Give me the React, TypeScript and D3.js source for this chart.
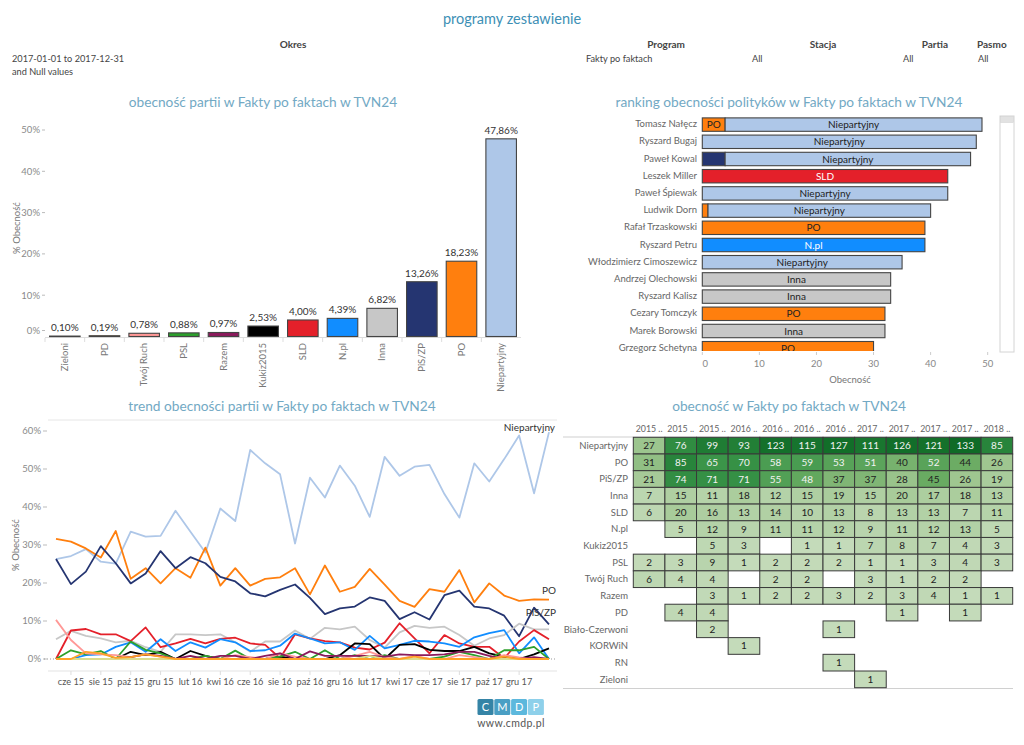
import React from 'react';
import * as d3 from 'd3';

const FONT = "'Segoe UI', Lato, 'Open Sans', sans-serif";
const TITLE_COLOR = '#72a9c4';
const TITLE_SIZE = 13.7;
const LABEL_SIZE = 9.5;

// ---------- parties & colours ----------
const partyNames = ['Niepartyjny', 'PO', 'PiS/ZP', 'Inna', 'SLD', 'N.pl', 'Kukiz2015', 'PSL', 'Twój Ruch', 'Razem', 'PD', 'Zieloni'];
const partyColors = ['#aec7e8', '#ff7f0e', '#253571', '#c7c7c7', '#e4202a', '#118dff', '#000000', '#2ca02c', '#ff9896', '#8b1a5c', '#ffa126', '#dbdb8d'];
const colorOf = (p: string) => partyColors[partyNames.indexOf(p)] || '#999';

// ---------- bar chart (2017) ----------
const barCategories = ['Zieloni', 'PD', 'Twój Ruch', 'PSL', 'Razem', 'Kukiz2015', 'SLD', 'N.pl', 'Inna', 'PiS/ZP', 'PO', 'Niepartyjny'];
const barValues = [0.10, 0.19, 0.78, 0.88, 0.97, 2.53, 4.00, 4.39, 6.82, 13.26, 18.23, 47.86];
const barTicks = [0, 10, 20, 30, 40, 50];

// ---------- ranking ----------
const rankNames = ['Tomasz Nałęcz', 'Ryszard Bugaj', 'Paweł Kowal', 'Leszek Miller', 'Paweł Śpiewak', 'Ludwik Dorn', 'Rafał Trzaskowski', 'Ryszard Petru', 'Włodzimierz Cimoszewicz', 'Andrzej Olechowski', 'Ryszard Kalisz', 'Cezary Tomczyk', 'Marek Borowski', 'Grzegorz Schetyna'];
const rankParties = [
  ['PO', 'Niepartyjny'], ['Niepartyjny'], ['PiS/ZP', 'Niepartyjny'], ['SLD'], ['Niepartyjny'], ['PO', 'Niepartyjny'],
  ['PO'], ['N.pl'], ['Niepartyjny'], ['Inna'], ['Inna'], ['PO'], ['Inna'], ['PO'],
];
const rankValues = [
  [4, 45], [48], [4, 43], [43], [43], [1, 39],
  [39], [39], [35], [33], [33], [32], [32], [30],
];
const rankTicks = [0, 10, 20, 30, 40, 50];

// ---------- trend (monthly %) ----------
const months = ['2015-05', '2015-06', '2015-07', '2015-08', '2015-09', '2015-10', '2015-11', '2015-12',
  '2016-01', '2016-02', '2016-03', '2016-04', '2016-05', '2016-06', '2016-07', '2016-08', '2016-09', '2016-10', '2016-11', '2016-12',
  '2017-01', '2017-02', '2017-03', '2017-04', '2017-05', '2017-06', '2017-07', '2017-08', '2017-09', '2017-10', '2017-11', '2017-12',
  '2018-01', '2018-02'];
const tickMonths = ['2015-06', '2015-08', '2015-10', '2015-12', '2016-02', '2016-04', '2016-06', '2016-08', '2016-10', '2016-12', '2017-02', '2017-04', '2017-06', '2017-08', '2017-10', '2017-12'];
const tickLabels = ['cze 15', 'sie 15', 'paź 15', 'gru 15', 'lut 16', 'kwi 16', 'cze 16', 'sie 16', 'paź 16', 'gru 16', 'lut 17', 'kwi 17', 'cze 17', 'sie 17', 'paź 17', 'gru 17'];
const lineTicks = [0, 10, 20, 30, 40, 50, 60];

const trendNiepartyjny = [26.3, 27.1, 28.9, 25.6, 25.1, 33.5, 32.2, 32.4, 39.0, 33.5, 28.0, 39.6, 36.3, 55.0, 51.5, 48.6, 30.4, 47.7, 42.5, 50.9, 45.6, 37.4, 53.2, 48.2, 50.6, 51.1, 43.4, 37.2, 51.5, 46.7, 52.6, 58.8, 43.6, 59.7];
const trendPO = [31.6, 30.9, 29.1, 26.7, 33.7, 21.1, 23.9, 19.9, 23.9, 21.4, 29.3, 19.3, 23.9, 19.3, 21.1, 21.5, 23.9, 17.0, 24.6, 17.7, 19.0, 23.7, 19.6, 15.3, 13.7, 18.4, 17.7, 23.4, 14.9, 19.9, 16.7, 15.3, 15.7, 15.6];
const trendPiS = [26.3, 19.7, 23.0, 29.7, 25.2, 19.9, 22.5, 28.4, 23.9, 26.8, 25.2, 21.6, 20.4, 17.3, 16.5, 18.2, 19.6, 16.1, 11.8, 13.3, 13.8, 16.2, 15.3, 10.5, 12.3, 10.4, 16.8, 18.0, 13.8, 13.3, 11.4, 6.0, 13.5, 9.1];
const trendInna = [5.2, 7.4, 6.1, 5.4, 4.4, 4.8, 3.1, 1.9, 6.5, 6.5, 6.3, 6.5, 4.4, 1.9, 4.6, 4.6, 7.5, 5.3, 8.2, 7.8, 8.5, 5.0, 3.0, 7.0, 8.7, 8.2, 8.5, 6.3, 3.5, 5.4, 6.3, 9.3, 7.8, 7.8];
const trendSLD = [0, 7.5, 7.9, 6.5, 6.5, 4.7, 8.3, 3.1, 4.1, 5.3, 4.1, 5.3, 5.6, 4.1, 3.7, 0.2, 6.5, 5.4, 4.7, 4.4, 3.0, 2.5, 4.3, 9.4, 5.4, 1.5, 6.3, 4.1, 3.2, 3.2, 0.2, 4.6, 7.6, 5.2];
const trendNpl = [0, 0, 1.0, 1.2, 3.2, 4.4, 1.9, 5.2, 2.1, 4.4, 3.0, 5.2, 4.4, 2.1, 2.3, 3.5, 6.7, 5.4, 4.1, 4.4, 2.4, 6.1, 2.8, 3.7, 4.8, 4.6, 4.1, 3.2, 5.7, 6.8, 7.6, 1.5, 5.7, 0];
const trendKukiz = [0, 0, 0, 0, 0, 1.9, 1.0, 1.9, 0, 2.1, 0.8, 0, 0, 0, 0, 0.6, 0, 0, 0, 1.0, 4.1, 3.9, 0, 3.7, 3.9, 2.4, 2.1, 2.1, 3.2, 1.5, 0.6, 0, 1.2, 2.8];
const trendPSL = [0, 2.3, 1.2, 2.1, 0, 4.6, 2.4, 1.5, 0, 0, 0.8, 0, 2.2, 0, 0, 0.6, 1.9, 0, 2.3, 0, 1.0, 0, 1.0, 0, 0, 0, 0.6, 1.9, 1.0, 0, 2.3, 2.3, 3.2, 0];
const trendTwojRuch = [10.3, 5.0, 1.5, 1.2, 1.0, 0.5, 1.2, 0.6, 0, 0, 0, 0, 1.0, 0.5, 0, 1.5, 0.6, 0, 0, 0, 0.8, 1.9, 0.5, 0, 0.8, 0, 0, 1.0, 0.5, 0, 1.0, 0.4, 0, 0];
const trendRazem = [0, 0, 0, 0, 0, 0.5, 1.2, 0.8, 0, 0.8, 0, 0.8, 0.8, 0, 0.8, 1.5, 0, 2.0, 0.8, 0.8, 0.8, 0.8, 0.6, 1.2, 1.0, 1.0, 1.2, 1.9, 1.9, 0.8, 0, 0, 0.5, 0];
const trendPD = [0, 0, 1.9, 1.5, 0.3, 0.5, 1.2, 0.6, 0, 0, 0, 0, 0, 0, 0, 0, 0, 0, 0, 0, 0, 0, 0, 0, 0.6, 0, 0, 0, 0, 0, 0.6, 0, 0, 0];
const trendZieloni = [0, 0, 0, 0, 0, 0, 0, 0, 0, 0, 0, 0, 0, 0, 0, 0, 0, 0, 0, 0, 0, 0.8, 0, 0, 0, 0, 0, 0, 0, 0, 0, 0, 0, 0];
const trendOrder = ['Niepartyjny', 'PO', 'PiS/ZP', 'Inna', 'SLD', 'N.pl', 'Kukiz2015', 'PSL', 'Twój Ruch', 'Razem', 'Zieloni', 'PD'];
const trendData = [trendNiepartyjny, trendPO, trendPiS, trendInna, trendSLD, trendNpl, trendKukiz, trendPSL, trendTwojRuch, trendRazem, trendZieloni, trendPD];

// ---------- heatmap (quarterly counts) ----------
const hmColumns = ['2015 ..', '2015 ..', '2015 ..', '2016 ..', '2016 ..', '2016 ..', '2016 ..', '2017 ..', '2017 ..', '2017 ..', '2017 ..', '2018 ..'];
const hmRows = ['Niepartyjny', 'PO', 'PiS/ZP', 'Inna', 'SLD', 'N.pl', 'Kukiz2015', 'PSL', 'Twój Ruch', 'Razem', 'PD', 'Biało-Czerwoni', 'KORWiN', 'RN', 'Zieloni'];
const N = null;
const hmValues: (number | null)[][] = [
  [27, 76, 99, 93, 123, 115, 127, 111, 126, 121, 133, 85],
  [31, 85, 65, 70, 58, 59, 53, 51, 40, 52, 44, 26],
  [21, 74, 71, 71, 55, 48, 37, 37, 28, 45, 26, 19],
  [7, 15, 11, 18, 12, 15, 19, 15, 20, 17, 18, 13],
  [6, 20, 16, 13, 14, 10, 13, 8, 13, 13, 7, 11],
  [N, 5, 12, 9, 11, 11, 12, 9, 11, 12, 13, 5],
  [N, N, 5, 3, N, 1, 1, 7, 8, 7, 4, 3],
  [2, 3, 9, 1, 2, 2, 2, 1, 1, 3, 4, 3],
  [6, 4, 4, N, 2, 2, N, 3, 1, 2, 2, N],
  [N, N, 3, 1, 2, 2, 3, 2, 3, 4, 1, 1],
  [N, 4, 4, N, N, N, N, N, 1, N, 1, N],
  [N, N, 2, N, N, N, 1, N, N, N, N, N],
  [N, N, N, 1, N, N, N, N, N, N, N, N],
  [N, N, N, N, N, N, 1, N, N, N, N, N],
  [N, N, N, N, N, N, N, 1, N, N, N, N],
];
const hmColorStops = [1, 26, 45, 65, 90, 133];
const hmColorRange = ['#c4dbba', '#9fc690', '#69ab62', '#3b9549', '#238037', '#0f6b27'];

// ---------- footer ----------
const logoLetters = ['C', 'M', 'D', 'P'];
const logoColors = ['#3584a6', '#4a9fc4', '#5cb8dd', '#8ed0ea'];

const fmtPct = (v: number) => v.toFixed(2).replace('.', ',') + '%';

function BarChart() {
  const x = d3.scaleBand<string>().domain(barCategories).range([45, 521]).paddingInner(0.23).paddingOuter(0.115);
  const y = d3.scaleLinear().domain([0, 50]).range([336.5, 130]);
  const step = x.step();
  return (
    <g>
      <text x={263} y={107} textAnchor="middle" fontSize={TITLE_SIZE} fill={TITLE_COLOR}>obecność partii w Fakty po faktach w TVN24</text>
      {barTicks.map((t) => {
        const ty = t === 0 ? y(t) - 6 : y(t);
        return (
          <g key={t}>
            <text x={40} y={ty + 3.3} textAnchor="end" fontSize={LABEL_SIZE} fill="#8a8a8a">{t}%</text>
            <line x1={42} x2={45} y1={ty} y2={ty} stroke="#bbb" />
          </g>
        );
      })}
      <text transform="translate(20,228) rotate(-90)" textAnchor="middle" fontSize={LABEL_SIZE} fill="#777">% Obecność</text>
      <line x1={45} x2={521} y1={337.5} y2={337.5} stroke="#ddd" />
      {barCategories.map((c, i) => (
        <line key={'t' + c} x1={45 + i * step} x2={45 + i * step} y1={338} y2={342} stroke="#ddd" />
      ))}
      {barCategories.map((c, i) => {
        const v = barValues[i];
        const bx = x(c)!;
        const bw = x.bandwidth();
        const cx = bx + bw / 2;
        return (
          <g key={c}>
            <rect x={bx} y={y(v)} width={bw} height={Math.max(0.5, y(0) - y(v))} fill={colorOf(c)} stroke="#444" strokeWidth={1.1} />
            <text x={cx} y={y(v) - 5} textAnchor="middle" fontSize={LABEL_SIZE + 0.5} fill="#333">{fmtPct(v)}</text>
            <text transform={`translate(${cx + 3.3},343) rotate(-90)`} textAnchor="end" fontSize={LABEL_SIZE} fill="#777">{c}</text>
          </g>
        );
      })}
    </g>
  );
}

function RankingChart() {
  const x = d3.scaleLinear().domain([0, 50]).range([702.3, 987.7]);
  const y = d3.scaleBand<string>().domain(rankNames).range([116, 116 + 14 * 17.2]).paddingInner(0.22).paddingOuter(0.11);
  const bh = y.bandwidth();
  return (
    <g>
      <text x={789} y={107} textAnchor="middle" fontSize={TITLE_SIZE} fill={TITLE_COLOR}>ranking obecności polityków w Fakty po faktach w TVN24</text>
      <defs>
        <clipPath id="rankClip">
          <rect x={700} y={110} width={300} height={241} />
        </clipPath>
      </defs>
      {rankNames.map((n) => (
        <text key={'l' + n} x={697} y={y(n)! + bh / 2 + 2.5} textAnchor="end" fontSize={LABEL_SIZE} fill="#666">{n}</text>
      ))}
      <g clipPath="url(#rankClip)">
        {rankNames.map((n, i) => {
          const yy = y(n)!;
          let acc = 0;
          return (
            <g key={n}>
              {rankParties[i].map((p, j) => {
                const v = rankValues[i][j];
                const x0 = x(acc);
                const x1 = x(acc + v);
                acc += v;
                const w = x1 - x0;
                const fits = p.length * 5.6 + 4 < w;
                const light = p === 'SLD' || p === 'N.pl' || p === 'PiS/ZP';
                return (
                  <g key={p + j}>
                    <rect x={x0} y={yy} width={w} height={bh} fill={colorOf(p)} stroke="#444" strokeWidth={1.1} />
                    {fits && (
                      <text x={(x0 + x1) / 2} y={yy + bh / 2 + 3.5} textAnchor="middle" fontSize={LABEL_SIZE + 0.5} fill={light ? '#fff' : '#222'}>{p}</text>
                    )}
                  </g>
                );
              })}
            </g>
          );
        })}
      </g>
      {rankTicks.map((t) => (
        <g key={t}>
          <line x1={x(t)} x2={x(t)} y1={352} y2={355} stroke="#ccc" />
          <text x={t === 0 ? x(t) + 3 : x(t)} y={367} textAnchor="middle" fontSize={LABEL_SIZE} fill="#888">{t}</text>
        </g>
      ))}
      <text x={850} y={383} textAnchor="middle" fontSize={LABEL_SIZE} fill="#777">Obecność</text>
      <rect x={1000} y={116} width={14} height={236} fill="#fff" stroke="#d4d4d4" />
      <rect x={1000.5} y={116.5} width={13} height={6} fill="#e2e2e2" stroke="#cfcfcf" strokeWidth={0.5} />
    </g>
  );
}

function TrendChart() {
  const x = d3.scalePoint<string>().domain(months).range([56, 549]);
  const y = d3.scaleLinear().domain([0, 60]).range([659, 431]);
  const line = d3.line<number>().x((_, i) => x(months[i])!).y((d) => y(d));
  return (
    <g>
      <text x={282} y={411} textAnchor="middle" fontSize={TITLE_SIZE} fill={TITLE_COLOR}>trend obecności partii w Fakty po faktach w TVN24</text>
      <line x1={48} x2={557} y1={420} y2={420} stroke="#e6e6e6" />
      <line x1={48} x2={557} y1={671} y2={671} stroke="#e3e3e3" />
      {lineTicks.map((t) => (
        <g key={t}>
          <text x={41} y={y(t) + 3.3} textAnchor="end" fontSize={LABEL_SIZE} fill="#8a8a8a">{t}%</text>
          <line x1={43} x2={47} y1={y(t)} y2={y(t)} stroke="#bbb" />
        </g>
      ))}
      <line x1={44} x2={557} y1={y(0)} y2={y(0)} stroke="#999" strokeDasharray="1 2" />
      <text transform="translate(19,545) rotate(-90)" textAnchor="middle" fontSize={LABEL_SIZE} fill="#777">% Obecność</text>
      {tickMonths.map((m, i) => (
        <g key={m}>
          <line x1={x(m)} x2={x(m)} y1={671} y2={675} stroke="#ddd" />
          <text x={x(m)} y={685} textAnchor="middle" fontSize={9.2} fill="#555">{tickLabels[i]}</text>
        </g>
      ))}
      {trendOrder.map((p, i) => (
        <path key={p} d={line(trendData[i]) || ''} fill="none" stroke={colorOf(p)} strokeWidth={1.8} strokeLinejoin="round" />
      ))}
      <text x={555} y={431} textAnchor="end" fontSize={LABEL_SIZE + 0.5} fill="#333">Niepartyjny</text>
      <text x={556} y={594} textAnchor="end" fontSize={LABEL_SIZE + 0.5} fill="#333">PO</text>
      <text x={556} y={616} textAnchor="end" fontSize={LABEL_SIZE + 0.5} fill="#333">PiS/ZP</text>
    </g>
  );
}

function Heatmap() {
  const x = d3.scaleBand<number>().domain(d3.range(hmColumns.length)).range([633.3, 1012.7]);
  const y = d3.scaleBand<string>().domain(hmRows).range([437.3, 687.7]);
  const color = d3.scaleLinear<string>().domain(hmColorStops).range(hmColorRange).interpolate(d3.interpolateRgb);
  return (
    <g>
      <text x={789} y={411} textAnchor="middle" fontSize={TITLE_SIZE} fill={TITLE_COLOR}>obecność w Fakty po faktach w TVN24</text>
      {hmColumns.map((c, i) => (
        <text key={i} x={x(i)! + x.bandwidth() / 2} y={432} textAnchor="middle" fontSize={8.8} fill="#666">{c}</text>
      ))}
      <line x1={563} x2={1013} y1={437} y2={437} stroke="#d0d0d0" strokeWidth={1.2} />
      <line x1={563} x2={1013} y1={688.5} y2={688.5} stroke="#d0d0d0" strokeWidth={1.2} />
      {hmRows.map((r, ri) => (
        <g key={r}>
          <text x={628} y={y(r)! + y.bandwidth() / 2 + 3.3} textAnchor="end" fontSize={LABEL_SIZE} fill="#666">{r}</text>
          {hmValues[ri].map((v, ci) => v == null ? null : (
            <g key={ci}>
              <rect x={x(ci)!} y={y(r)!} width={x.bandwidth()} height={y.bandwidth()} fill={color(v)} stroke="#3a3a3a" strokeWidth={1} />
              <text x={x(ci)! + x.bandwidth() / 2} y={y(r)! + y.bandwidth() / 2 + 3.5} textAnchor="middle" fontSize={LABEL_SIZE + 0.5} fill={v >= 47 ? '#f2f2f2' : '#222'}>{v}</text>
            </g>
          ))}
        </g>
      ))}
    </g>
  );
}

function Header() {
  return (
    <g fill="#444">
      <text x={512} y={24} textAnchor="middle" fontSize={14.5} fill="#3d8fb5">programy zestawienie</text>
      <text x={293} y={48} textAnchor="middle" fontSize={10} fontWeight="bold">Okres</text>
      <text x={12} y={62} fontSize={9.2}>2017-01-01 to 2017-12-31</text>
      <text x={12} y={75} fontSize={9.2}>and Null values</text>
      <text x={685} y={48} textAnchor="end" fontSize={10} fontWeight="bold">Program</text>
      <text x={586} y={62} fontSize={9.2}>Fakty po faktach</text>
      <text x={823} y={48} textAnchor="middle" fontSize={10} fontWeight="bold">Stacja</text>
      <text x={752} y={62} fontSize={9.2}>All</text>
      <text x={948} y={48} textAnchor="end" fontSize={10} fontWeight="bold">Partia</text>
      <text x={903} y={62} fontSize={9.2}>All</text>
      <text x={977} y={48} fontSize={10} fontWeight="bold">Pasmo</text>
      <text x={978} y={62} fontSize={9.2}>All</text>
    </g>
  );
}

function Footer() {
  return (
    <g>
      {logoLetters.map((l, i) => (
        <g key={l}>
          <rect x={477.5 + i * 16.8} y={699} width={16} height={16} rx={1.5} fill={logoColors[i]} />
          <text x={477.5 + i * 16.8 + 8} y={711} textAnchor="middle" fontSize={11} fill="#fff">{l}</text>
        </g>
      ))}
      <text x={511} y={727} textAnchor="middle" fontSize={10.5} fill="#555" letterSpacing={0.4}>www.cmdp.pl</text>
    </g>
  );
}

export default function App() {
  return (
    <svg width={1024} height={745} style={{ position: 'absolute', left: 0, top: 0, background: '#fff' }} fontFamily={FONT}>
      <rect width={1024} height={745} fill="#fff" />
      <Header />
      <BarChart />
      <RankingChart />
      <TrendChart />
      <Heatmap />
      <Footer />
    </svg>
  );
}
